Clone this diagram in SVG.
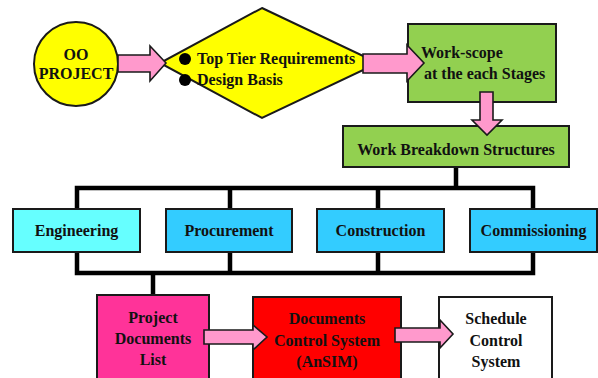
<svg xmlns="http://www.w3.org/2000/svg" width="598" height="378" viewBox="0 0 598 378">
  <style>
    .box { stroke: #1a1a1a; stroke-width: 2; }
    .arrow { fill: #FF99CC; stroke: #1a1a1a; stroke-width: 1.6; stroke-linejoin: miter; }
    .wire { fill: none; stroke: #000; stroke-width: 4.5; stroke-linecap: square; }
    text { font-family: "Liberation Serif", "Times New Roman", serif; font-weight: bold; font-size: 16px; fill: #111; }
    .c { text-anchor: middle; }
  </style>
  <rect width="598" height="378" fill="#fff"/>

  <!-- tree connectors -->
  <g id="connectors">
    <path class="wire" d="M456 168 V188 M77 209 V188 H533 V209 M230 188 V209 M378 188 V209"/>
    <path class="wire" d="M77 252 V273 H533 V252 M230 252 V273 M378 252 V273 M153 273 V294"/>
  </g>

  <g id="oo-project">
    <circle cx="76" cy="64" r="42" fill="#FFFF00" class="box"/>
    <text class="c" x="76" y="60">OO</text>
    <text class="c" x="76" y="79">PROJECT</text>
  </g>

  <g id="requirements">
    <polygon points="262,8 378,63 262,118 160,63" fill="#FFFF00" class="box"/>
    <circle cx="185" cy="59" r="6" fill="#000"/>
    <circle cx="185" cy="80" r="6" fill="#000"/>
    <text x="197" y="64">Top Tier Requirements</text>
    <text x="197" y="85">Design Basis</text>
  </g>

  <g id="work-scope">
    <rect x="408" y="24" width="148" height="78" fill="#92D050" class="box"/>
    <text x="421" y="58">Work-scope</text>
    <text x="424" y="79">at the each Stages</text>
  </g>

  <g id="wbs">
    <rect x="343" y="126" width="226" height="41" fill="#92D050" class="box"/>
    <text class="c" x="456" y="155">Work Breakdown Structures</text>
  </g>

  <g id="engineering">
    <rect x="13" y="209" width="127" height="43" fill="#66FFFF" class="box"/>
    <text class="c" x="76.5" y="236">Engineering</text>
  </g>
  <g id="procurement">
    <rect x="166" y="209" width="126" height="43" fill="#33CCFF" class="box"/>
    <text class="c" x="229" y="236">Procurement</text>
  </g>
  <g id="construction">
    <rect x="317" y="209" width="127" height="43" fill="#33CCFF" class="box"/>
    <text class="c" x="380.5" y="236">Construction</text>
  </g>
  <g id="commissioning">
    <rect x="470" y="209" width="127" height="43" fill="#33CCFF" class="box"/>
    <text class="c" x="533.5" y="236">Commissioning</text>
  </g>

  <g id="project-documents">
    <rect x="97" y="295" width="112" height="90" fill="#FF3399" class="box"/>
    <text class="c" x="153" y="323">Project</text>
    <text class="c" x="153" y="344">Documents</text>
    <text class="c" x="153" y="365">List</text>
  </g>

  <g id="documents-control">
    <rect x="253" y="297" width="148" height="90" fill="#FF0000" class="box"/>
    <text class="c" x="327" y="324">Documents</text>
    <text class="c" x="327" y="346">Control System</text>
    <text class="c" x="327" y="367">(AnSIM)</text>
  </g>

  <g id="schedule-control">
    <rect x="439" y="297" width="113" height="90" fill="#FFFFFF" class="box"/>
    <text class="c" x="496" y="324">Schedule</text>
    <text class="c" x="496" y="346">Control</text>
    <text class="c" x="496" y="367">System</text>
  </g>

  <!-- block arrows -->
  <g id="arrows">
    <polygon class="arrow" points="118,55 150,55 150,46 166,63 150,81 150,72 118,72"/>
    <polygon class="arrow" points="363,54 407,54 407,45 424,63 407,81 407,73 363,73"/>
    <polygon class="arrow" points="480,92 493,92 493,120 502,120 487,135 472,120 480,120"/>
    <polygon class="arrow" points="204,330 253,330 253,325 267,337 253,350 253,344 204,344"/>
    <polygon class="arrow" points="395,328 440,328 440,320 453,334 440,348 440,342 395,342"/>
  </g>
</svg>
